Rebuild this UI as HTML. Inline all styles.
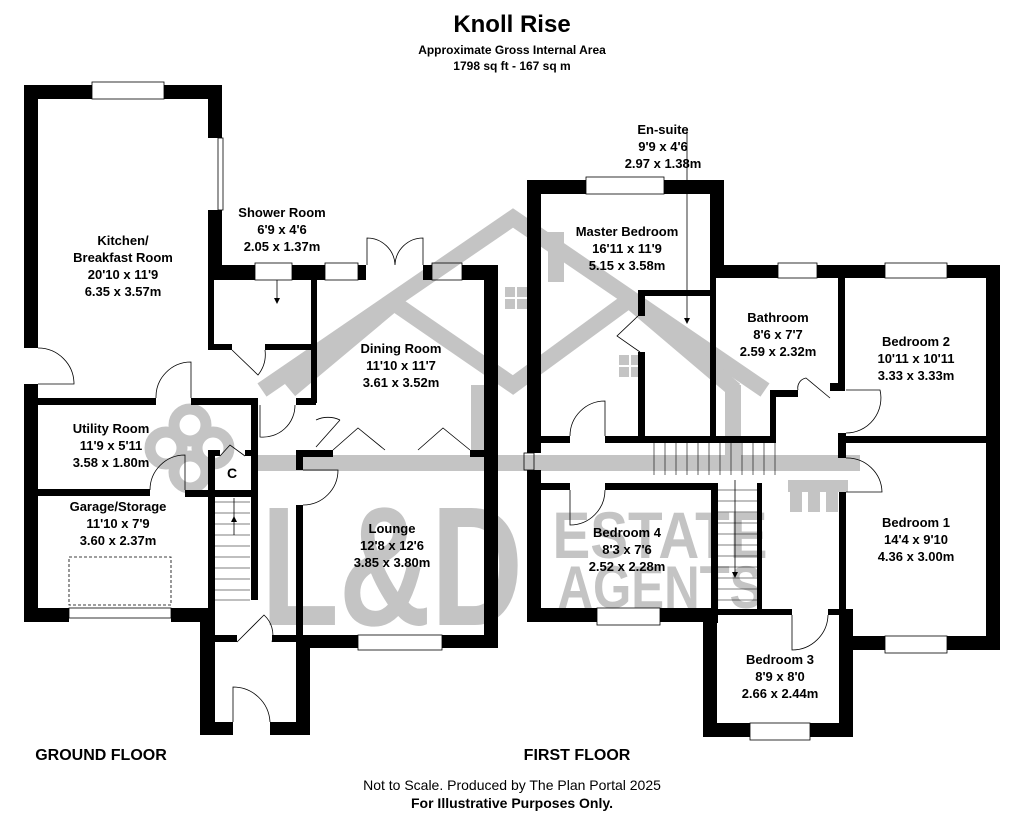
<!DOCTYPE html>
<html><head><meta charset="utf-8"><style>
html,body{margin:0;padding:0;background:#fff;}
svg{display:block;}
text{font-family:"Liberation Sans",Arial,sans-serif;font-weight:bold;fill:#000;text-anchor:middle;}
</style></head><body>
<svg width="1024" height="824" viewBox="0 0 1024 824" xmlns="http://www.w3.org/2000/svg">
<!-- watermark -->
<g fill="none" stroke="#c4c4c4" stroke-width="16" stroke-linejoin="miter">
<polyline points="262,390 513,218 765,390"/>
<polyline points="290,390 394,303 513,385 629,300 735,390"/>
<line x1="258" y1="463" x2="860" y2="463"/>
<line x1="479" y1="385" x2="479" y2="460"/>
<line x1="733" y1="385" x2="733" y2="460"/>
<line x1="556" y1="232" x2="556" y2="282"/>
</g>
<g fill="none" stroke="#c4c4c4" stroke-width="11">
<circle cx="190" cy="425" r="16"/>
<circle cx="166" cy="448" r="16"/>
<circle cx="190" cy="472" r="16"/>
<circle cx="213" cy="448" r="16"/>
</g>
<g fill="#c4c4c4">
<rect x="505" y="287" width="10" height="10"/><rect x="517" y="287" width="10" height="10"/><rect x="505" y="299" width="10" height="10"/><rect x="517" y="299" width="10" height="10"/>
<rect x="619" y="355" width="10" height="10"/><rect x="631" y="355" width="10" height="10"/><rect x="619" y="367" width="10" height="10"/><rect x="631" y="367" width="10" height="10"/>
<rect x="788" y="480" width="60" height="12"/><rect x="790" y="492" width="12" height="20"/><rect x="808" y="492" width="12" height="20"/><rect x="826" y="492" width="12" height="20"/>
</g>
<text x="392" y="625" style="font-size:170px;fill:#c4c4c4" textLength="262" lengthAdjust="spacingAndGlyphs">L&amp;D</text>
<text x="660" y="558" style="font-size:66px;fill:#c4c4c4" textLength="215" lengthAdjust="spacingAndGlyphs">ESTATE</text>
<text x="660" y="608" style="font-size:60px;fill:#c4c4c4" textLength="205" lengthAdjust="spacingAndGlyphs">AGENTS</text>

<!-- GROUND FLOOR walls -->
<g fill="#000">
<rect x="24" y="85" width="68" height="14"/><rect x="164" y="85" width="58" height="14"/>
<rect x="24" y="85" width="14" height="263"/><rect x="24" y="384" width="14" height="238"/>
<rect x="208" y="85" width="14" height="53"/><rect x="208" y="210" width="14" height="70"/>
<rect x="208" y="265" width="47" height="15"/><rect x="292" y="265" width="33" height="15"/><rect x="358" y="265" width="8" height="15"/>
<rect x="423" y="265" width="9" height="15"/><rect x="462" y="265" width="36" height="15"/>
<rect x="484" y="265" width="14" height="383"/>
<rect x="208" y="278" width="6" height="72"/>
<rect x="208" y="344" width="24" height="6"/><rect x="265" y="344" width="50" height="6"/>
<rect x="311" y="278" width="6" height="125"/>
<rect x="296" y="398" width="20" height="7"/>
<rect x="38" y="398" width="118" height="7"/><rect x="191" y="398" width="67" height="7"/>
<rect x="251" y="398" width="7" height="202"/>
<rect x="296" y="450" width="37" height="7"/><rect x="296" y="450" width="7" height="20"/>
<rect x="470" y="450" width="28" height="7"/>
<rect x="296" y="505" width="7" height="143"/>
<rect x="303" y="635" width="55" height="13"/><rect x="442" y="635" width="56" height="13"/>
<rect x="38" y="489" width="112" height="7"/><rect x="185" y="490" width="73" height="7"/>
<rect x="208" y="450" width="7" height="172"/><rect x="208" y="450" width="12" height="6"/><rect x="245" y="450" width="10" height="6"/>
<rect x="24" y="608" width="45" height="14"/><rect x="171" y="608" width="44" height="14"/>
<rect x="200" y="608" width="15" height="127"/>
<rect x="296" y="640" width="14" height="95"/>
<rect x="215" y="635" width="22" height="7"/><rect x="272" y="635" width="24" height="7"/>
<rect x="200" y="722" width="33" height="13"/><rect x="270" y="722" width="40" height="13"/>
</g>
<g fill="none" stroke="#000" stroke-width="0.8">
<rect x="92" y="82" width="72" height="17"/><rect x="218" y="138" width="5" height="72"/>
<rect x="255" y="263" width="37" height="17"/><rect x="325" y="263" width="33" height="17"/><rect x="432" y="263" width="30" height="17"/>
<rect x="69" y="608" width="102" height="10"/><rect x="358" y="635" width="84" height="15"/>
<rect x="69" y="557" width="102" height="48" stroke-dasharray="3,2"/>
<path d="M367,265 V238 A28,28 0 0 1 395,265 M423,265 V238 A28,28 0 0 0 395,265"/>
<path d="M38,348 A36,36 0 0 1 74,384 H38"/>
<path d="M191,398 V362 A35,35 0 0 0 156,398"/>
<path d="M260,405 V437 A32,32 0 0 0 295,405"/>
<path d="M232,350 L258,375 A33,33 0 0 0 265,350"/>
<path d="M185,490 V455 A35,35 0 0 0 150,490"/>
<path d="M303,470 H338 A35,35 0 0 1 303,505"/>
<path d="M237,642 L264,615 A27,27 0 0 1 272,642"/>
<path d="M233,722 V687 A37,37 0 0 1 270,722"/>
<path d="M220,456 L230,445 L245,456"/>
<path d="M316,447 L340,420 M316,420 A28,28 0 0 1 340,420"/>
<path d="M333,450 L358,428 L385,450 M418,450 L443,428 L470,450"/>
<line x1="277" y1="280" x2="277" y2="300"/>
<line x1="234" y1="498" x2="234" y2="535"/>
</g>
<g stroke="#000" stroke-width="0.6">
<line x1="215" y1="502" x2="250" y2="502"/><line x1="215" y1="513" x2="250" y2="513"/><line x1="215" y1="524" x2="250" y2="524"/><line x1="215" y1="535" x2="250" y2="535"/><line x1="215" y1="546" x2="250" y2="546"/><line x1="215" y1="557" x2="250" y2="557"/><line x1="215" y1="568" x2="250" y2="568"/><line x1="215" y1="579" x2="250" y2="579"/><line x1="215" y1="590" x2="250" y2="590"/><line x1="215" y1="600" x2="250" y2="600"/>
</g>

<!-- FIRST FLOOR walls -->
<g fill="#000">
<rect x="527" y="180" width="59" height="14"/><rect x="664" y="180" width="60" height="14"/>
<rect x="527" y="180" width="14" height="273"/><rect x="527" y="470" width="14" height="152"/>
<rect x="710" y="180" width="14" height="98"/>
<rect x="710" y="265" width="68" height="13"/><rect x="817" y="265" width="68" height="13"/><rect x="947" y="265" width="53" height="13"/>
<rect x="986" y="265" width="14" height="385"/>
<rect x="638" y="290" width="78" height="6"/><rect x="638" y="290" width="7" height="26"/><rect x="638" y="352" width="7" height="85"/>
<rect x="710" y="278" width="6" height="159"/>
<rect x="541" y="436" width="29" height="7"/><rect x="605" y="436" width="171" height="7"/>
<rect x="770" y="390" width="6" height="53"/><rect x="770" y="390" width="28" height="7"/>
<rect x="830" y="383" width="15" height="8"/>
<rect x="838" y="278" width="7" height="112"/>
<rect x="838" y="436" width="162" height="7"/>
<rect x="838" y="433" width="8" height="25"/><rect x="839" y="492" width="7" height="158"/>
<rect x="541" y="483" width="29" height="7"/><rect x="605" y="483" width="113" height="7"/>
<rect x="711" y="483" width="7" height="140"/>
<rect x="757" y="483" width="5" height="126"/>
<rect x="527" y="608" width="70" height="14"/><rect x="660" y="608" width="58" height="14"/>
<rect x="703" y="609" width="14" height="128"/>
<rect x="717" y="609" width="75" height="6"/><rect x="828" y="609" width="18" height="6"/>
<rect x="839" y="609" width="14" height="128"/>
<rect x="703" y="723" width="47" height="14"/><rect x="810" y="723" width="43" height="14"/>
<rect x="839" y="636" width="46" height="14"/><rect x="947" y="636" width="53" height="14"/>
</g>
<g fill="none" stroke="#000" stroke-width="0.8">
<rect x="586" y="177" width="78" height="17"/><rect x="778" y="263" width="39" height="15"/><rect x="885" y="263" width="62" height="15"/>
<rect x="524" y="453" width="10" height="17"/>
<rect x="597" y="608" width="63" height="17"/><rect x="750" y="723" width="60" height="17"/><rect x="885" y="636" width="62" height="17"/>
<path d="M570,436 A35,35 0 0 1 605,401 V436"/>
<path d="M570,490 V525 A35,35 0 0 0 605,490"/>
<path d="M638,316 L617,336 L640,352"/>
<path d="M798,390 A10,10 0 0 1 806,378 L830,398"/>
<path d="M846,390 H880 A35,35 0 0 1 846,433"/>
<path d="M846,458 A35,35 0 0 1 882,492 H846"/>
<path d="M792,615 V650 A36,36 0 0 0 828,615"/>
<line x1="687" y1="130" x2="687" y2="318"/>
<line x1="735" y1="480" x2="735" y2="572"/>
</g>
<g stroke="#000" stroke-width="0.6" fill="none">
<path d="M654,443 V475 M665,443 V475 M676,443 V475 M687,443 V475 M698,443 V475 M709,443 V475 M720,443 V475 M731,443 V475 M742,443 V475 M753,443 V475 M764,443 V475 M775,443 V475"/>
<path d="M718,490 H757 M718,501 H757 M718,512 H757 M718,523 H757 M718,534 H757 M718,545 H757 M718,556 H757 M718,567 H757 M718,578 H757 M718,589 H757 M718,600 H757"/>
</g>
<g fill="#000"><path d="M684,318 L690,318 L687,324Z"/><path d="M274,298 L280,298 L277,304Z"/><path d="M231,522 L237,522 L234,516Z"/><path d="M732,572 L738,572 L735,578Z"/></g>

<!-- labels -->
<text x="512" y="32" style="font-size:24px">Knoll Rise</text>
<text x="512" y="54" style="font-size:12px">Approximate Gross Internal Area</text>
<text x="512" y="70" style="font-size:12px">1798 sq ft - 167 sq m</text>
<g style="font-size:13px">
<text x="123" y="245">Kitchen/</text><text x="123" y="262">Breakfast Room</text><text x="123" y="279">20'10 x 11'9</text><text x="123" y="296">6.35 x 3.57m</text>
<text x="282" y="217">Shower Room</text><text x="282" y="234">6'9 x 4'6</text><text x="282" y="251">2.05 x 1.37m</text>
<text x="401" y="353">Dining Room</text><text x="401" y="370">11'10 x 11'7</text><text x="401" y="387">3.61 x 3.52m</text>
<text x="111" y="433">Utility Room</text><text x="111" y="450">11'9 x 5'11</text><text x="111" y="467">3.58 x 1.80m</text>
<text x="232" y="478" style="font-size:14px">C</text>
<text x="118" y="511">Garage/Storage</text><text x="118" y="528">11'10 x 7'9</text><text x="118" y="545">3.60 x 2.37m</text>
<text x="392" y="533">Lounge</text><text x="392" y="550">12'8 x 12'6</text><text x="392" y="567">3.85 x 3.80m</text>
<text x="663" y="134">En-suite</text><text x="663" y="151">9'9 x 4'6</text><text x="663" y="168">2.97 x 1.38m</text>
<text x="627" y="236">Master Bedroom</text><text x="627" y="253">16'11 x 11'9</text><text x="627" y="270">5.15 x 3.58m</text>
<text x="778" y="322">Bathroom</text><text x="778" y="339">8'6 x 7'7</text><text x="778" y="356">2.59 x 2.32m</text>
<text x="916" y="346">Bedroom 2</text><text x="916" y="363">10'11 x 10'11</text><text x="916" y="380">3.33 x 3.33m</text>
<text x="916" y="527">Bedroom 1</text><text x="916" y="544">14'4 x 9'10</text><text x="916" y="561">4.36 x 3.00m</text>
<text x="627" y="537">Bedroom 4</text><text x="627" y="554">8'3 x 7'6</text><text x="627" y="571">2.52 x 2.28m</text>
<text x="780" y="664">Bedroom 3</text><text x="780" y="681">8'9 x 8'0</text><text x="780" y="698">2.66 x 2.44m</text>
</g>
<text x="101" y="760" style="font-size:16px">GROUND FLOOR</text>
<text x="577" y="760" style="font-size:16px">FIRST FLOOR</text>
<text x="512" y="790" style="font-size:14px;font-weight:normal">Not to Scale. Produced by The Plan Portal 2025</text>
<text x="512" y="808" style="font-size:14px">For Illustrative Purposes Only.</text>
</svg>
</body></html>
